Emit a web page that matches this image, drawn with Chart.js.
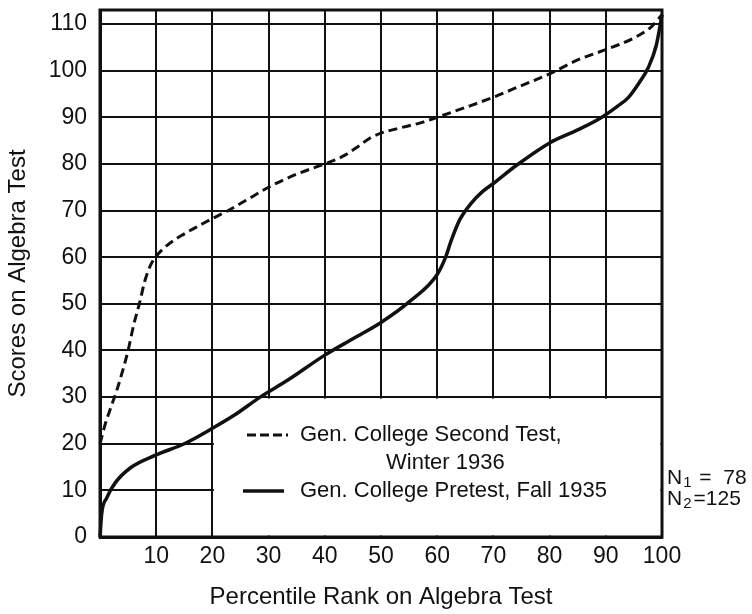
<!DOCTYPE html>
<html>
<head>
<meta charset="utf-8">
<script src="https://cdn.jsdelivr.net/npm/chart.js@4.4.0/dist/chart.umd.min.js"></script>
<style>
  body { margin: 0; background: #fff; }
  canvas { display: block; }
</style>
</head>
<body>
<canvas id="chart" width="752" height="614"></canvas>
<script>
// Gen. College Second Test, Winter 1936 (dashed)
var secondPct = [0, 1, 2, 3, 4, 5, 6, 7, 8, 9, 10, 12, 15, 18, 20, 22.5, 26, 30, 35, 40, 43, 46, 48, 50, 53, 57, 60, 65, 70, 75, 80, 85, 90, 95, 98, 100];
var secondScore = [20, 24.5, 28, 31.5, 35.5, 40, 45.5, 50, 55, 58.3, 60.2, 62.6, 65, 67, 68.3, 69.8, 72.2, 75, 77.8, 80, 81.5, 83.8, 85.5, 86.6, 87.6, 88.8, 90, 92.1, 94.3, 96.8, 99.3, 102.3, 104.5, 107, 109.3, 112];

// Gen. College Pretest, Fall 1935 (solid)
var pretestPct = [0, 0.3, 1.2, 2.7, 5.5, 10, 15, 20, 24, 28.5, 33.5, 40, 45, 50, 55, 60, 61.5, 62.5, 64, 66, 68, 70, 74, 80, 85, 89, 92, 94, 96, 97.5, 99, 100];
var pretestScore = [0, 5, 8.4, 11.6, 14.9, 17.6, 20, 23.3, 26.2, 30, 33.7, 39, 42.5, 46, 50.4, 56.3, 60, 63.6, 68, 71.5, 74, 75.8, 79.6, 84.5, 87.3, 89.8, 92.3, 94.2, 97.5, 100.5, 105.5, 112];

var legendLabels = ["Gen. College Second Test,", "Winter 1936", "Gen. College Pretest, Fall 1935"];
var nLabels = [["1", " =  78"], ["2", "=125"]];

var ink = "#111";
var fontFamily = "'Liberation Sans', Arial, sans-serif";

function toPoints(xs, ys) {
    var pts = [];
    for (var i = 0; i < xs.length; i++) {
        pts.push({ x: xs[i], y: ys[i] });
    }
    return pts;
}

// white box behind the legend, drawn over the grid but under the curves
var legendBox = {
    id: "legendBox",
    beforeDatasetsDraw: function (chart) {
        var ctx = chart.ctx;
        var x = chart.scales.x, y = chart.scales.y;
        var l = x.getPixelForValue(20) + 1.5;
        var r = x.getPixelForValue(100) - 1.5;
        var t = y.getPixelForValue(30) + 1.5;
        var b = y.getPixelForValue(0) - 1.5;
        ctx.save();
        ctx.fillStyle = "#fff";
        ctx.fillRect(l, t, r - l, b - t);
        ctx.restore();
    },
    afterDraw: function (chart) {
        var ctx = chart.ctx;
        var area = chart.chartArea;
        ctx.save();
        // frame
        ctx.strokeStyle = ink;
        ctx.lineWidth = 3;
        ctx.strokeRect(area.left, area.top, area.right - area.left, area.bottom - area.top);

        // legend samples
        ctx.lineWidth = 3;
        ctx.setLineDash([9, 4]);
        ctx.beginPath();
        ctx.moveTo(247, 435);
        ctx.lineTo(288, 435);
        ctx.stroke();
        ctx.setLineDash([]);
        ctx.lineWidth = 3.5;
        ctx.beginPath();
        ctx.moveTo(243, 491);
        ctx.lineTo(284, 491);
        ctx.stroke();

        // legend text
        ctx.fillStyle = ink;
        ctx.font = "22px " + fontFamily;
        ctx.textBaseline = "middle";
        ctx.textAlign = "left";
        ctx.fillText(legendLabels[0], 300, 435);
        ctx.fillText(legendLabels[1], 386, 463);
        ctx.fillText(legendLabels[2], 300, 491);

        // N counts
        var rows = [478, 499];
        for (var i = 0; i < nLabels.length; i++) {
            ctx.font = "21px " + fontFamily;
            ctx.fillText("N", 667, rows[i]);
            var w = ctx.measureText("N").width;
            ctx.font = "15px " + fontFamily;
            ctx.fillText(nLabels[i][0], 667 + w + 1, rows[i] + 5);
            var w2 = ctx.measureText(nLabels[i][0]).width;
            ctx.font = "21px " + fontFamily;
            ctx.fillText(nLabels[i][1], 667 + w + w2 + 3, rows[i]);
        }
        ctx.restore();
    }
};

var ctx = document.getElementById("chart").getContext("2d");
var chart = new Chart(ctx, {
    type: "scatter",
    data: {
        datasets: [{
            label: legendLabels[0] + " " + legendLabels[1],
            data: toPoints(secondPct, secondScore),
            showLine: true,
            borderColor: ink,
            borderWidth: 3,
            borderDash: [9, 5],
            pointRadius: 0,
            cubicInterpolationMode: "monotone",
            clip: 5
        }, {
            label: legendLabels[2],
            data: toPoints(pretestPct, pretestScore),
            showLine: true,
            borderColor: ink,
            borderWidth: 3.5,
            pointRadius: 0,
            cubicInterpolationMode: "monotone",
            clip: 5
        }]
    },
    options: {
        responsive: false,
        animation: false,
        layout: { padding: { left: 0, right: 90, top: 10, bottom: 0 } },
        plugins: {
            legend: { display: false },
            tooltip: { enabled: false }
        },
        scales: {
            x: {
                type: "linear",
                min: 0,
                max: 100,
                afterFit: function (scale) {
                    scale.height = 77;
                    scale.paddingLeft = 0;
                    scale.paddingRight = 0;
                },
                ticks: {
                    stepSize: 10,
                    color: ink,
                    padding: 6,
                    maxRotation: 0,
                    font: { family: fontFamily, size: 23 },
                    callback: function (v) { return v === 0 ? "" : v; }
                },
                grid: { color: ink, lineWidth: 2, drawTicks: false },
                border: { color: ink, width: 3 },
                title: {
                    display: true,
                    text: "Percentile Rank on Algebra Test",
                    color: ink,
                    font: { family: fontFamily, size: 24 },
                    padding: { top: 0, bottom: 2 }
                }
            },
            y: {
                min: 0,
                max: 113,
                afterFit: function (scale) {
                    scale.width = 100;
                    scale.paddingTop = 0;
                    scale.paddingBottom = 0;
                },
                ticks: {
                    stepSize: 10,
                    includeBounds: false,
                    color: ink,
                    padding: 13,
                    font: { family: fontFamily, size: 23 }
                },
                grid: { color: ink, lineWidth: 2, drawTicks: false },
                border: { color: ink, width: 3 },
                title: {
                    display: true,
                    text: "Scores on Algebra Test",
                    color: ink,
                    font: { family: fontFamily, size: 24 },
                    padding: { top: 4, bottom: 0 }
                }
            }
        }
    },
    plugins: [legendBox]
});
</script>
</body>
</html>
